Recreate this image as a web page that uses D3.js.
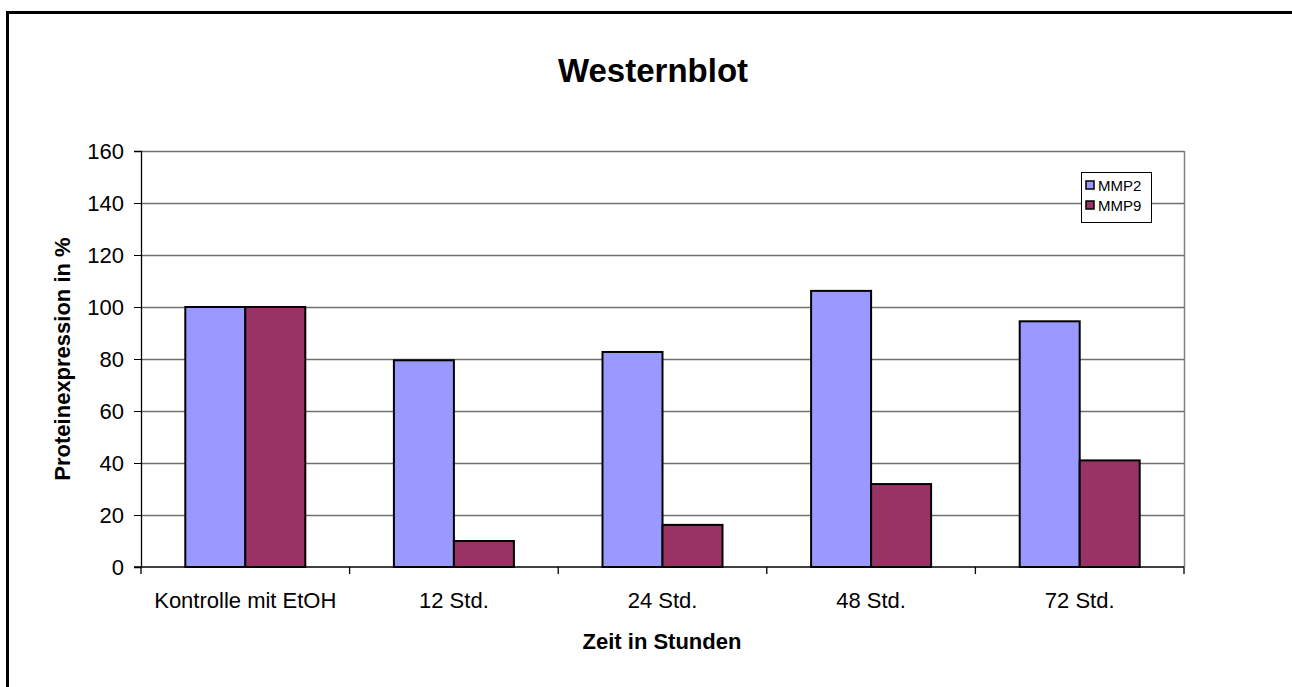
<!DOCTYPE html>
<html><head><meta charset="utf-8">
<script src="https://cdn.jsdelivr.net/npm/d3@7"></script>
<style>body{margin:0;background:#fff}svg{display:block;font-family:"Liberation Sans",Arial,sans-serif}</style>
</head><body>
<svg id="c" width="1292" height="687"></svg>
<script>
const categories = ["Kontrolle mit EtOH","12 Std.","24 Std.","48 Std.","72 Std."];
const seriesNames = ["MMP2","MMP9"];
const mmp2 = [100, 79.5, 82.7, 106.2, 94.5];
const mmp9 = [100, 10, 16.2, 31.9, 41];
const colors = ["#9999FF","#993366"];
const yTicks = [0,20,40,60,80,100,120,140,160];

const svg = d3.select("#c");
svg.append("rect").attr("x",7.5).attr("y",12.5).attr("width",1400).attr("height",800)
  .attr("fill","#fff").attr("stroke","#000").attr("stroke-width",3);

const L=141, R=1184, T=151, B=567;
const x = d3.scaleBand().domain(categories).range([L,R]);
const x1 = d3.scaleBand().domain(seriesNames).range([0,120]);
const y = d3.scaleLinear().domain([0,160]).range([B,T]);

// gridlines
svg.append("g").selectAll("line").data(yTicks.filter(d=>d>0)).join("line")
  .attr("x1",L).attr("x2",R).attr("y1",d=>y(d)+0.5).attr("y2",d=>y(d)+0.5)
  .attr("stroke","#707070").attr("stroke-width",1.3);
svg.append("line").attr("x1",R+0.5).attr("x2",R+0.5).attr("y1",T).attr("y2",B)
  .attr("stroke","#808080").attr("stroke-width",1.5);

// bars
const data = categories.map((c,i)=>({c, vals:[mmp2[i],mmp9[i]]}));
const g = svg.append("g").selectAll("g").data(data).join("g")
  .attr("transform",d=>`translate(${x(d.c)+x.bandwidth()/2-60},0)`);
g.selectAll("rect").data(d=>d.vals.map((v,j)=>({v,s:seriesNames[j],j}))).join("rect")
  .attr("x",d=>x1(d.s)).attr("width",x1.bandwidth())
  .attr("y",d=>y(d.v)).attr("height",d=>B-y(d.v))
  .attr("fill",d=>colors[d.j]).attr("stroke","#000").attr("stroke-width",2);

// axes
const yAxis = d3.axisLeft(y).tickValues(yTicks).tickSize(7).tickPadding(10);
const ya = svg.append("g").attr("transform",`translate(${L},0)`).call(yAxis);
ya.select(".domain").attr("stroke","#000").attr("stroke-width",1.3);
ya.selectAll("text").attr("font-size",22).attr("fill","#000").attr("font-family","Liberation Sans, Arial, sans-serif");

const xa = svg.append("g").attr("transform",`translate(0,${B})`);
xa.append("line").attr("x1",L-7).attr("x2",R).attr("y1",0).attr("y2",0).attr("stroke","#000").attr("stroke-width",1.3);
const bounds = categories.map(c=>x(c)).concat([R]);
xa.selectAll("line.t").data(bounds).join("line").attr("class","t")
  .attr("x1",d=>d).attr("x2",d=>d).attr("y1",0).attr("y2",7).attr("stroke","#000").attr("stroke-width",1.3);
xa.selectAll("text").data(categories).join("text")
  .attr("x",d=>x(d)+x.bandwidth()/2).attr("y",41).attr("text-anchor","middle")
  .attr("font-size",22).text(d=>d);

// titles
svg.append("text").attr("x",653).attr("y",82).attr("text-anchor","middle")
  .attr("font-size",33).attr("font-weight","bold").text("Westernblot");
svg.append("text").attr("x",662).attr("y",649).attr("text-anchor","middle")
  .attr("font-size",22).attr("font-weight","bold").text("Zeit in Stunden");
svg.append("text").attr("transform","translate(70,359) rotate(-90)").attr("text-anchor","middle")
  .attr("font-size",22).attr("font-weight","bold").text("Proteinexpression in %");

// legend
const lg = svg.append("g").attr("transform","translate(1081,172)");
lg.append("rect").attr("x",0.5).attr("y",0.5).attr("width",70).attr("height",50)
  .attr("fill","#fff").attr("stroke","#000").attr("stroke-width",1);
seriesNames.forEach((s,i)=>{
  lg.append("rect").attr("x",5).attr("y",9+i*20).attr("width",8).attr("height",8)
    .attr("fill",colors[i]).attr("stroke","#000").attr("stroke-width",1.5);
  lg.append("text").attr("x",17).attr("y",18.5+i*20).attr("font-size",15).text(s);
});
</script>
</body></html>
